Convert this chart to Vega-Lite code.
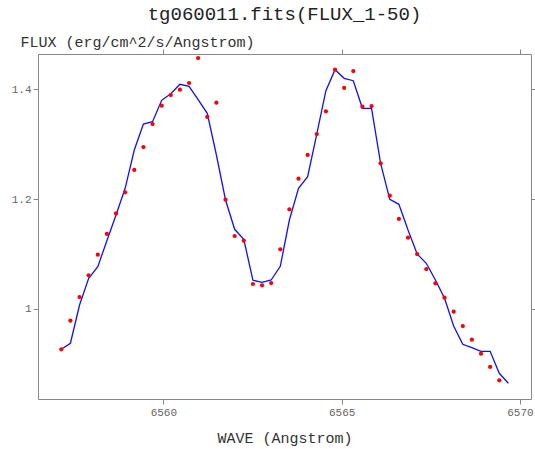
{
  "$schema": "https://vega.github.io/schema/vega-lite/v6.json",
  "autosize": {"type": "none"},
  "padding": {"left": 38, "top": 54, "right": 4, "bottom": 50},
  "width": 493,
  "height": 345,
  "background": "white",
  "title": {"text": "tg060011.fits(FLUX_1-50)", "font": "Liberation Mono", "fontSize": 19, "fontWeight": "normal", "color": "#222222", "anchor": "middle", "offset": 10},
  "config": {"view": {"stroke": "#888888", "strokeWidth": 1}},
  "data": {"values": [
    {"wave": 6557.137, "flux": 0.9266, "fit": 0.9266},
    {"wave": 6557.393, "flux": 0.9787, "fit": 0.9376},
    {"wave": 6557.649, "flux": 1.0218, "fit": 1.0073},
    {"wave": 6557.905, "flux": 1.0614, "fit": 1.0559},
    {"wave": 6558.161, "flux": 1.0989, "fit": 1.0770},
    {"wave": 6558.416, "flux": 1.1366, "fit": 1.1244},
    {"wave": 6558.672, "flux": 1.1739, "fit": 1.1711},
    {"wave": 6558.928, "flux": 1.2125, "fit": 1.2198},
    {"wave": 6559.184, "flux": 1.2531, "fit": 1.2895},
    {"wave": 6559.440, "flux": 1.2949, "fit": 1.3368},
    {"wave": 6559.696, "flux": 1.3368, "fit": 1.3410},
    {"wave": 6559.952, "flux": 1.3701, "fit": 1.3800},
    {"wave": 6560.208, "flux": 1.3896, "fit": 1.3920},
    {"wave": 6560.464, "flux": 1.3993, "fit": 1.4091},
    {"wave": 6560.720, "flux": 1.4115, "fit": 1.4055},
    {"wave": 6560.975, "flux": 1.4570, "fit": 1.3811},
    {"wave": 6561.231, "flux": 1.3496, "fit": 1.3563},
    {"wave": 6561.487, "flux": 1.3756, "fit": 1.2804},
    {"wave": 6561.743, "flux": 1.1990, "fit": 1.1985},
    {"wave": 6561.999, "flux": 1.1329, "fit": 1.1451},
    {"wave": 6562.255, "flux": 1.1244, "fit": 1.1269},
    {"wave": 6562.511, "flux": 1.0455, "fit": 1.0523},
    {"wave": 6562.767, "flux": 1.0431, "fit": 1.0486},
    {"wave": 6563.023, "flux": 1.0473, "fit": 1.0528},
    {"wave": 6563.279, "flux": 1.1087, "fit": 1.0777},
    {"wave": 6563.534, "flux": 1.1815, "fit": 1.1620},
    {"wave": 6563.790, "flux": 1.2372, "fit": 1.2198},
    {"wave": 6564.046, "flux": 1.2804, "fit": 1.2409},
    {"wave": 6564.302, "flux": 1.3186, "fit": 1.3186},
    {"wave": 6564.558, "flux": 1.3599, "fit": 1.3975},
    {"wave": 6564.814, "flux": 1.4357, "fit": 1.4357},
    {"wave": 6565.070, "flux": 1.4024, "fit": 1.4200},
    {"wave": 6565.326, "flux": 1.4333, "fit": 1.4157},
    {"wave": 6565.582, "flux": 1.3683, "fit": 1.3654},
    {"wave": 6565.838, "flux": 1.3696, "fit": 1.3654},
    {"wave": 6566.093, "flux": 1.2653, "fit": 1.2653},
    {"wave": 6566.349, "flux": 1.2063, "fit": 1.1997},
    {"wave": 6566.605, "flux": 1.1639, "fit": 1.1906},
    {"wave": 6566.861, "flux": 1.1298, "fit": 1.1438},
    {"wave": 6567.117, "flux": 1.1001, "fit": 1.1001},
    {"wave": 6567.373, "flux": 1.0728, "fit": 1.0832},
    {"wave": 6567.629, "flux": 1.0468, "fit": 1.0528},
    {"wave": 6567.885, "flux": 1.0206, "fit": 1.0195},
    {"wave": 6568.141, "flux": 0.9951, "fit": 0.9690},
    {"wave": 6568.397, "flux": 0.9690, "fit": 0.9357},
    {"wave": 6568.652, "flux": 0.9441, "fit": 0.9295},
    {"wave": 6568.908, "flux": 0.9186, "fit": 0.9230},
    {"wave": 6569.164, "flux": 0.8944, "fit": 0.9230},
    {"wave": 6569.420, "flux": 0.8702, "fit": 0.8829},
    {"wave": 6569.676, "flux": null, "fit": 0.8647}
  ]},
  "resolve": {"axis": {"x": "independent", "y": "independent"}},
  "layer": [
    {
      "mark": {"type": "line", "color": "#1010ff", "strokeWidth": 1.3, "clip": true},
      "encoding": {
        "x": {"field": "wave", "type": "quantitative",
          "scale": {"domain": [6556.484, 6570.31], "nice": false, "zero": false},
          "axis": {"orient": "bottom", "values": [6560, 6565, 6570], "format": "d", "grid": false, "domain": false,
            "tickColor": "#888888", "tickSize": 5, "labelFont": "Liberation Mono", "labelFontSize": 11, "labelColor": "#666666", "labelPadding": 2,
            "title": "WAVE (Angstrom)", "titleFont": "Liberation Mono", "titleFontSize": 15, "titleFontWeight": "normal", "titleColor": "#333333",
            "titleBaseline": "middle", "titleY": 38}},
        "y": {"field": "fit", "type": "quantitative",
          "scale": {"domain": [0.8361, 1.4643], "nice": false, "zero": false},
          "axis": {"orient": "left", "values": [1, 1.2, 1.4], "format": "~g", "grid": false, "domain": false,
            "tickColor": "#888888", "tickSize": 5, "labelFont": "Liberation Mono", "labelFontSize": 11, "labelColor": "#666666", "labelPadding": 2,
            "title": "FLUX (erg/cm^2/s/Angstrom)", "titleFont": "Liberation Mono", "titleFontSize": 15, "titleFontWeight": "normal", "titleColor": "#333333",
            "titleAngle": 0, "titleAlign": "left", "titleBaseline": "alphabetic", "titleX": -18, "titleY": -8}}
      }
    },
    {
      "mark": {"type": "circle", "color": "#ff0000", "opacity": 1, "size": 18, "clip": true},
      "encoding": {
        "x": {"field": "wave", "type": "quantitative",
          "axis": {"orient": "top", "values": [6560, 6565, 6570], "labels": false, "title": null, "grid": false, "domain": false, "tickColor": "#888888", "tickSize": 5}},
        "y": {"field": "flux", "type": "quantitative",
          "axis": {"orient": "right", "values": [1, 1.2, 1.4], "labels": false, "title": null, "grid": false, "domain": false, "tickColor": "#888888", "tickSize": 5}}
      }
    }
  ]
}
